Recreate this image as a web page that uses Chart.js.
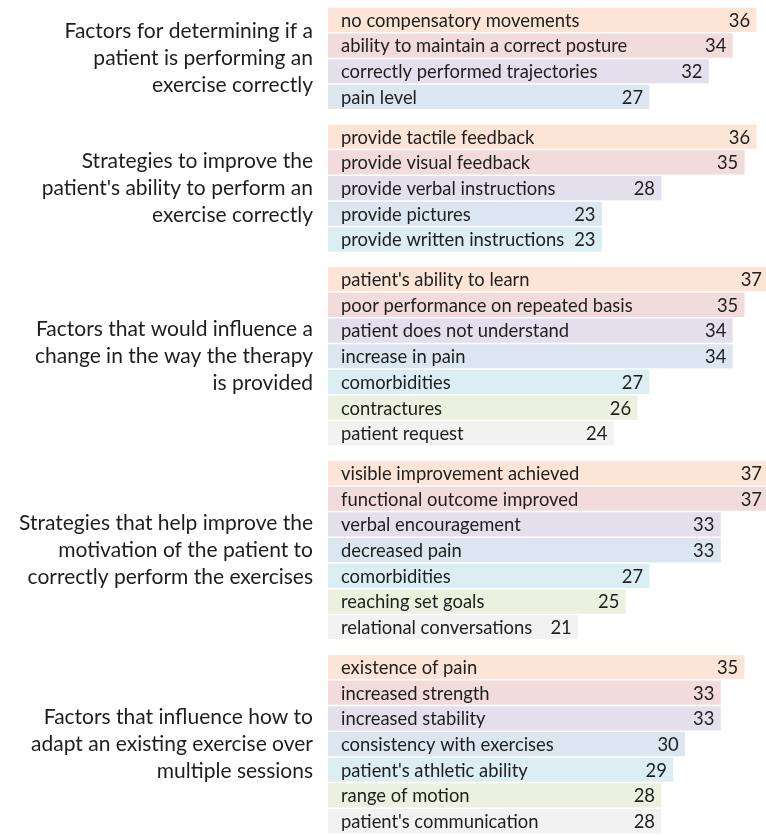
<!DOCTYPE html>
<html>
<head>
<meta charset="utf-8">
<title>Survey factors</title>
<script src="https://cdn.jsdelivr.net/npm/chart.js@4/dist/chart.umd.min.js"></script>
<style>
  html, body { margin: 0; padding: 0; overflow: hidden; background: #fff; }
  canvas { display: block; }
</style>
</head>
<body>
<canvas id="chart" width="776" height="835"></canvas>
<script>
// group headings (one entry per line of text)
var groupTitles = [
  ['Factors for determining if a', 'patient is performing an', 'exercise correctly'],
  ['Strategies to improve the', "patient's ability to perform an", 'exercise correctly'],
  ['Factors that would influence a', 'change in the way the therapy', 'is provided'],
  ['Strategies that help improve the', 'motivation of the patient to', 'correctly perform the exercises'],
  ['Factors that influence how to', 'adapt an existing exercise over', 'multiple sessions']
];
var groupSizes = [4, 5, 7, 7, 7];

var itemLabels = [
  'no compensatory movements', 'ability to maintain a correct posture', 'correctly performed trajectories', 'pain level',
  'provide tactile feedback', 'provide visual feedback', 'provide verbal instructions', 'provide pictures', 'provide written instructions',
  "patient's ability to learn", 'poor performance on repeated basis', 'patient does not understand', 'increase in pain', 'comorbidities', 'contractures', 'patient request',
  'visible improvement achieved', 'functional outcome improved', 'verbal encouragement', 'decreased pain', 'comorbidities', 'reaching set goals', 'relational conversations',
  'existence of pain', 'increased strength', 'increased stability', 'consistency with exercises', "patient's athletic ability", 'range of motion', "patient's communication"
];
var itemValues = [
  36, 34, 32, 27,
  36, 35, 28, 23, 23,
  37, 35, 34, 34, 27, 26, 24,
  37, 37, 33, 33, 27, 25, 21,
  35, 33, 33, 30, 29, 28, 28
];

// colour by position inside a group
var shades = ['#fce4d6', '#f2dcdb', '#e4dfec', '#dce6f1', '#daeef3', '#ebf1de', '#f2f2f2'];
var GROUP_GAP = 0.545;

var rowPos = [], rowColor = [];
var k = 0;
for (var g = 0; g < groupSizes.length; g++) {
  for (var i = 0; i < groupSizes[g]; i++) {
    rowPos.push(k + g * GROUP_GAP);
    rowColor.push(shades[i]);
    k++;
  }
}

var labelPlugin = {
  id: 'barText',
  afterDatasetsDraw: function (chart) {
    var ctx = chart.ctx;
    var area = chart.chartArea;
    var bars = chart.getDatasetMeta(0).data;
    ctx.save();
    ctx.fillStyle = '#1e1e1e';
    ctx.textBaseline = 'middle';
    ctx.font = '18.4px Lato';
    bars.forEach(function (bar, i) {
      ctx.textAlign = 'left';
      ctx.fillText(itemLabels[i], area.left + 13, bar.y + 1);
      ctx.textAlign = 'right';
      ctx.fillText(String(itemValues[i]), Math.min(bar.x - 6, 765), bar.y + 1);
    });

    // group headings, centred on their block of bars
    ctx.font = '21px Lato';
    ctx.textAlign = 'right';
    var start = 0;
    groupTitles.forEach(function (lines, g) {
      var first = bars[start], last = bars[start + groupSizes[g] - 1];
      var mid = (first.y + last.y) / 2;
      lines.forEach(function (line, j) {
        ctx.fillText(line, 313, mid + (j - (lines.length - 1) / 2) * 26.7);
      });
      start += groupSizes[g];
    });
    ctx.restore();
  }
};

new Chart(document.getElementById('chart'), {
  type: 'bar',
  data: {
    datasets: [{
      data: itemValues.map(function (v, i) { return { x: v, y: rowPos[i] }; }),
      backgroundColor: rowColor,
      borderWidth: 0,
      barThickness: 23.5
    }]
  },
  options: {
    indexAxis: 'y',
    responsive: false,
    animation: false,
    layout: { padding: { left: 328, right: 8, top: 7, bottom: 1 } },
    scales: {
      x: { type: 'linear', min: 0, max: 37, display: false },
      y: { type: 'linear', reverse: true, offset: false, min: -0.5, max: rowPos[rowPos.length - 1] + 0.5, display: false }
    },
    plugins: { legend: { display: false }, tooltip: { enabled: false } }
  },
  plugins: [labelPlugin]
});
</script>
</body>
</html>
